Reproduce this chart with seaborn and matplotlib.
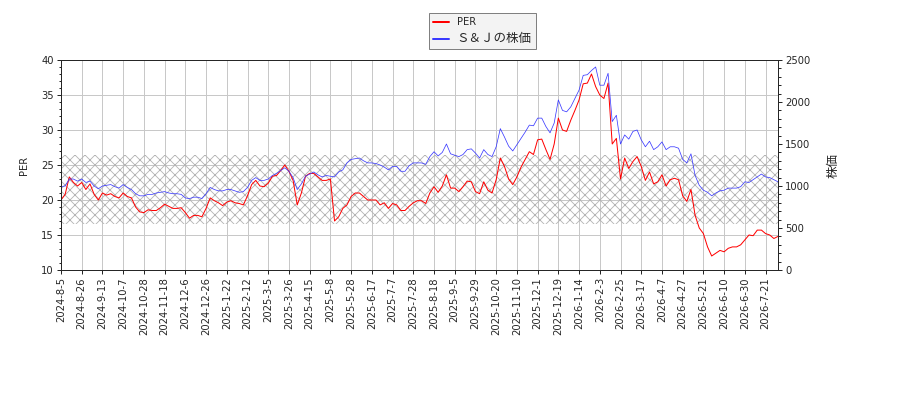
import numpy as np
import matplotlib
matplotlib.use("Agg")
import matplotlib.pyplot as plt
from matplotlib.ticker import MultipleLocator
import seaborn as sns

tick_labels = [
    "2024-8-5", "2024-8-26", "2024-9-13", "2024-10-7", "2024-10-28",
    "2024-11-18", "2024-12-6", "2024-12-26", "2025-1-22", "2025-2-12",
    "2025-3-5", "2025-3-26", "2025-4-15", "2025-5-8", "2025-5-28",
    "2025-6-17", "2025-7-7", "2025-7-28", "2025-8-18", "2025-9-5",
    "2025-9-29", "2025-10-20", "2025-11-10", "2025-12-1", "2025-12-19",
    "2026-1-14", "2026-2-3", "2026-2-25", "2026-3-17", "2026-4-7",
    "2026-4-27", "2026-5-21", "2026-6-10", "2026-6-30", "2026-7-21",
]

# PER, one value every 3 trading days
per = [
    20.0, 20.8, 23.3, 22.5, 22.0, 22.5, 21.5, 22.3, 20.8, 20.0,
    21.0, 20.7, 20.9, 20.5, 20.3, 21.0, 20.5, 20.3, 19.0, 18.3,
    18.2, 18.6, 18.5, 18.5, 18.9, 19.4, 19.1, 18.8, 18.8, 18.9,
    18.2, 17.4, 17.8, 17.8, 17.6, 18.8, 20.3, 19.9, 19.6, 19.2,
    19.7, 19.9, 19.6, 19.5, 19.3, 20.6, 22.2, 22.8, 22.0, 21.9,
    22.4, 23.4, 23.5, 24.2, 25.0, 24.1, 22.8, 19.3, 21.0, 23.4,
    23.8, 23.8, 23.3, 22.8, 22.8, 23.0, 17.0, 17.6, 18.8, 19.3,
    20.5, 21.0, 21.0, 20.5, 20.0, 20.0, 20.0, 19.3, 19.6, 18.8,
    19.5, 19.3, 18.5, 18.5, 19.1, 19.6, 19.9, 19.9, 19.5, 21.0,
    21.9, 21.1, 22.0, 23.6, 21.7, 21.7, 21.2, 21.9, 22.7, 22.6,
    21.2, 20.9, 22.6, 21.4, 21.0, 22.9, 26.0, 24.8, 23.0, 22.2,
    23.3, 24.7, 25.8, 26.9, 26.5, 28.6, 28.7, 27.2, 25.8, 28.0,
    31.7, 30.0, 29.8, 31.4, 32.8, 34.3, 36.6, 36.7, 38.0, 36.2,
    35.0, 34.5, 36.7, 28.0, 28.8, 23.0, 26.0, 24.5, 25.5, 26.2,
    24.8, 22.8, 24.0, 22.3, 22.6, 23.6, 22.0, 22.9, 23.1, 22.9,
    20.6, 19.8, 21.5, 17.8, 16.0, 15.2, 13.3, 12.0, 12.4, 12.8,
    12.6, 13.1, 13.3, 13.3, 13.6, 14.3, 15.0, 14.9, 15.7, 15.7,
    15.2, 15.0, 14.5, 14.8,
]

# share price (yen), same sampling
price = [
    992, 1000, 1083, 1083, 1058, 1083, 1042, 1058, 1000, 967,
    1000, 1008, 1017, 992, 975, 1017, 983, 958, 908, 883,
    883, 900, 900, 917, 925, 933, 917, 908, 908, 900,
    858, 850, 867, 867, 850, 908, 983, 958, 942, 942,
    958, 958, 942, 925, 933, 983, 1067, 1100, 1067, 1067,
    1083, 1125, 1150, 1183, 1217, 1175, 1100, 958, 1025, 1117,
    1142, 1167, 1133, 1108, 1125, 1117, 1108, 1167, 1192, 1275,
    1317, 1325, 1333, 1300, 1275, 1275, 1267, 1250, 1225, 1192,
    1233, 1233, 1175, 1175, 1242, 1275, 1275, 1275, 1258, 1350,
    1408, 1358, 1400, 1500, 1383, 1367, 1350, 1375, 1433, 1442,
    1392, 1333, 1433, 1375, 1350, 1467, 1683, 1583, 1475, 1417,
    1492, 1567, 1642, 1725, 1717, 1808, 1808, 1708, 1633, 1750,
    2025, 1900, 1883, 1942, 2042, 2142, 2317, 2325, 2375, 2417,
    2200, 2200, 2342, 1767, 1842, 1500, 1608, 1558, 1650, 1667,
    1550, 1467, 1533, 1433, 1467, 1525, 1433, 1467, 1467, 1450,
    1317, 1275, 1383, 1125, 1008, 950, 925, 883, 917, 942,
    950, 975, 975, 975, 992, 1050, 1042, 1075, 1108, 1142,
    1108, 1100, 1075, 1050,
]

band_low, band_high = 16.6, 26.4
sample_step = 3
tick_step = 15

sns.set_style("ticks")
plt.rcParams["font.family"] = ["DejaVu Sans", "Noto Sans CJK JP"]
plt.rcParams["font.size"] = 12
plt.rcParams["hatch.linewidth"] = 1.0
cjk = ["Noto Sans CJK JP", "DejaVu Sans"]

x = np.arange(len(per)) * sample_step

fig, ax = plt.subplots(figsize=(15, 400 / 60), dpi=60)
fig.subplots_adjust(left=61 / 900, right=778 / 900, top=1 - 60 / 400, bottom=1 - 270 / 400)
ax2 = ax.twinx()

ax.axhspan(band_low, band_high, facecolor="none", edgecolor="#b4b4b4",
           hatch="xx", linewidth=0, zorder=1)

sns.lineplot(x=x, y=per, ax=ax, color="red", linewidth=1.2, label="PER", zorder=3)
sns.lineplot(x=x, y=price, ax=ax2, color="#3a3aff", linewidth=0.9,
             label="Ｓ＆Ｊの株価", zorder=2)

ax.set_xlim(0, x[-1])
ax.set_ylim(10, 40)
ax2.set_ylim(0, 2500)
ax.set_xticks(np.arange(len(tick_labels)) * tick_step)
ax.set_xticklabels(tick_labels, rotation=90, fontsize=12)
ax.yaxis.set_major_locator(MultipleLocator(5))
ax.yaxis.set_minor_locator(MultipleLocator(1))
ax2.yaxis.set_major_locator(MultipleLocator(500))
ax2.yaxis.set_minor_locator(MultipleLocator(100))
for a in (ax, ax2):
    a.tick_params(which="major", length=5, width=1.2, labelsize=12)
    a.tick_params(which="minor", length=3, width=1.2)
    for s in a.spines.values():
        s.set_linewidth(1.2)
ax.grid(True, color="#c8c8c8", linewidth=1.2)
ax.set_axisbelow(True)
ax.set_xlabel("")
ax.set_ylabel("PER", fontsize=12, labelpad=15)
ax2.set_ylabel("株価", fontsize=15, family=cjk, labelpad=20)

h1, l1 = ax.get_legend_handles_labels()
h2, l2 = ax2.get_legend_handles_labels()
ax.get_legend().remove()
ax2.get_legend().remove()
leg = fig.legend(h1 + h2, l1 + l2, loc="upper center",
                 bbox_to_anchor=(482 / 900, 1 - 8 / 400), fontsize=12,
                 fancybox=False, framealpha=1, facecolor="#f3f3f3",
                 edgecolor="#808080", handlelength=1.6)
leg.get_frame().set_linewidth(1.2)
for line in leg.get_lines():
    line.set_linewidth(2.4)
leg.get_texts()[1].set_fontfamily(cjk)
leg.get_texts()[1].set_fontsize(15)

fig.savefig("out.png", dpi=60)
